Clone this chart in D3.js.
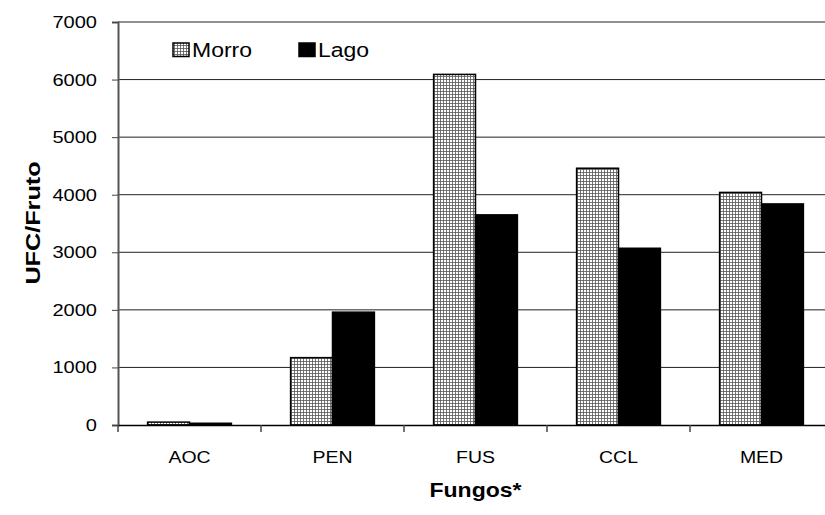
<!DOCTYPE html>
<html>
<head>
<meta charset="utf-8">
<script src="https://cdn.jsdelivr.net/npm/d3@7"></script>
<style>
  body { margin: 0; background: #fff; }
  text { font-family: "Liberation Sans", Arial, sans-serif; }
</style>
</head>
<body>
<div id="chart"></div>
<script>
var categories = ["AOC", "PEN", "FUS", "CCL", "MED"];
var seriesNames = ["Morro", "Lago"];
var morro = [50, 1170, 6090, 4460, 4040];
var lago = [30, 1960, 3650, 3070, 3840];
var yTicks = [0, 1000, 2000, 3000, 4000, 5000, 6000, 7000];

var svgWidth = 825;
var svgHeight = 515;

var margin = { top: 22, right: -8, bottom: 90, left: 118 };
var width = svgWidth - margin.left - margin.right;
var height = svgHeight - margin.top - margin.bottom;

// the original picture is a bit wider than tall, so text is stretched
var stretch = 1.18;

var svg = d3.select("#chart")
  .append("svg")
  .attr("width", svgWidth)
  .attr("height", svgHeight);

// crosshatch pattern for Morro
var defs = svg.append("defs");
var pat = defs.append("pattern")
  .attr("id", "hatch")
  .attr("patternUnits", "userSpaceOnUse")
  .attr("width", 3)
  .attr("height", 3);
pat.append("rect").attr("width", 3).attr("height", 3).attr("fill", "#fff");
pat.append("path")
  .attr("d", "M0,0.5H3M0.5,0V3")
  .attr("stroke", "#555")
  .attr("stroke-width", 0.8);

var chartGroup = svg.append("g")
  .attr("transform", `translate(${margin.left}, ${margin.top})`);

var xScale = d3.scaleBand()
  .domain(categories)
  .range([0, width]);

var xInner = d3.scaleBand()
  .domain(seriesNames)
  .range([xScale.bandwidth() * 0.207, xScale.bandwidth() * 0.793]);

var yScale = d3.scaleLinear()
  .domain([0, 7000])
  .range([height, 0]);

// gridlines
chartGroup.append("g")
  .selectAll("line")
  .data(yTicks.slice(1))
  .enter()
  .append("line")
  .attr("x1", 0)
  .attr("x2", width)
  .attr("y1", d => yScale(d))
  .attr("y2", d => yScale(d))
  .attr("stroke", "#222")
  .attr("stroke-width", 1);

// bars
var data = categories.map((c, i) => ({ cat: c, values: [morro[i], lago[i]] }));

var groups = chartGroup.selectAll(".cat")
  .data(data)
  .enter()
  .append("g")
  .attr("transform", d => `translate(${xScale(d.cat)}, 0)`);

groups.selectAll("rect")
  .data(d => d.values.map((v, j) => ({ name: seriesNames[j], value: v })))
  .enter()
  .append("rect")
  .attr("x", d => xInner(d.name))
  .attr("width", xInner.bandwidth())
  .attr("y", d => yScale(d.value))
  .attr("height", d => height - yScale(d.value))
  .attr("fill", d => d.name === "Morro" ? "url(#hatch)" : "#000")
  .attr("stroke", "#000")
  .attr("stroke-width", 1.5);

// y axis
var leftAxis = d3.axisLeft(yScale)
  .tickValues(yTicks)
  .tickFormat(d3.format("d"))
  .tickSize(6);

var yAxis = chartGroup.append("g").call(leftAxis);
yAxis.select(".domain").attr("stroke", "#555").attr("stroke-width", 2);
yAxis.selectAll(".tick line").attr("stroke", "#444");
yAxis.selectAll(".tick text")
  .attr("x", -21 / stretch)
  .attr("transform", `scale(${stretch},1)`)
  .style("font-size", "17px")
  .attr("fill", "#000");

// x axis
var bottomAxis = d3.axisBottom(xScale)
  .tickSize(0);

var xAxis = chartGroup.append("g")
  .attr("transform", `translate(0, ${height})`)
  .call(bottomAxis);
xAxis.select(".domain").attr("stroke", "#000").attr("stroke-width", 1.5);
xAxis.selectAll(".tick text")
  .attr("y", 38.5)
  .attr("dy", null)
  .attr("transform", `scale(${stretch},1)`)
  .style("font-size", "16.5px")
  .attr("fill", "#000");

// category boundary ticks
xAxis.selectAll(".bound")
  .data(categories)
  .enter()
  .append("line")
  .attr("x1", d => xScale(d))
  .attr("x2", d => xScale(d))
  .attr("y1", 0)
  .attr("y2", 7)
  .attr("stroke", "#444")
  .attr("stroke-width", 1.5);

// axis titles
svg.append("text")
  .attr("transform", `translate(${margin.left + xScale.bandwidth() * 2.5}, 497) scale(${stretch},1)`)
  .attr("text-anchor", "middle")
  .style("font-size", "19.5px")
  .style("font-weight", "bold")
  .text("Fungos*");

svg.append("text")
  .attr("transform", `translate(40, 223) rotate(-90) scale(1.2,1)`)
  .attr("text-anchor", "middle")
  .style("font-size", "21px")
  .style("font-weight", "bold")
  .text("UFC/Fruto");

// legend
var legendX = [173, 299];
var legend = svg.append("g");
seriesNames.forEach(function(name, i) {
  legend.append("rect")
    .attr("x", legendX[i])
    .attr("y", 43)
    .attr("width", 16)
    .attr("height", 13.5)
    .attr("fill", name === "Morro" ? "url(#hatch)" : "#000")
    .attr("stroke", "#000")
    .attr("stroke-width", 1.5);
  legend.append("text")
    .attr("transform", `translate(${legendX[i] + 19}, 56.5) scale(${stretch},1)`)
    .style("font-size", "19.5px")
    .text(name);
});
</script>
</body>
</html>
